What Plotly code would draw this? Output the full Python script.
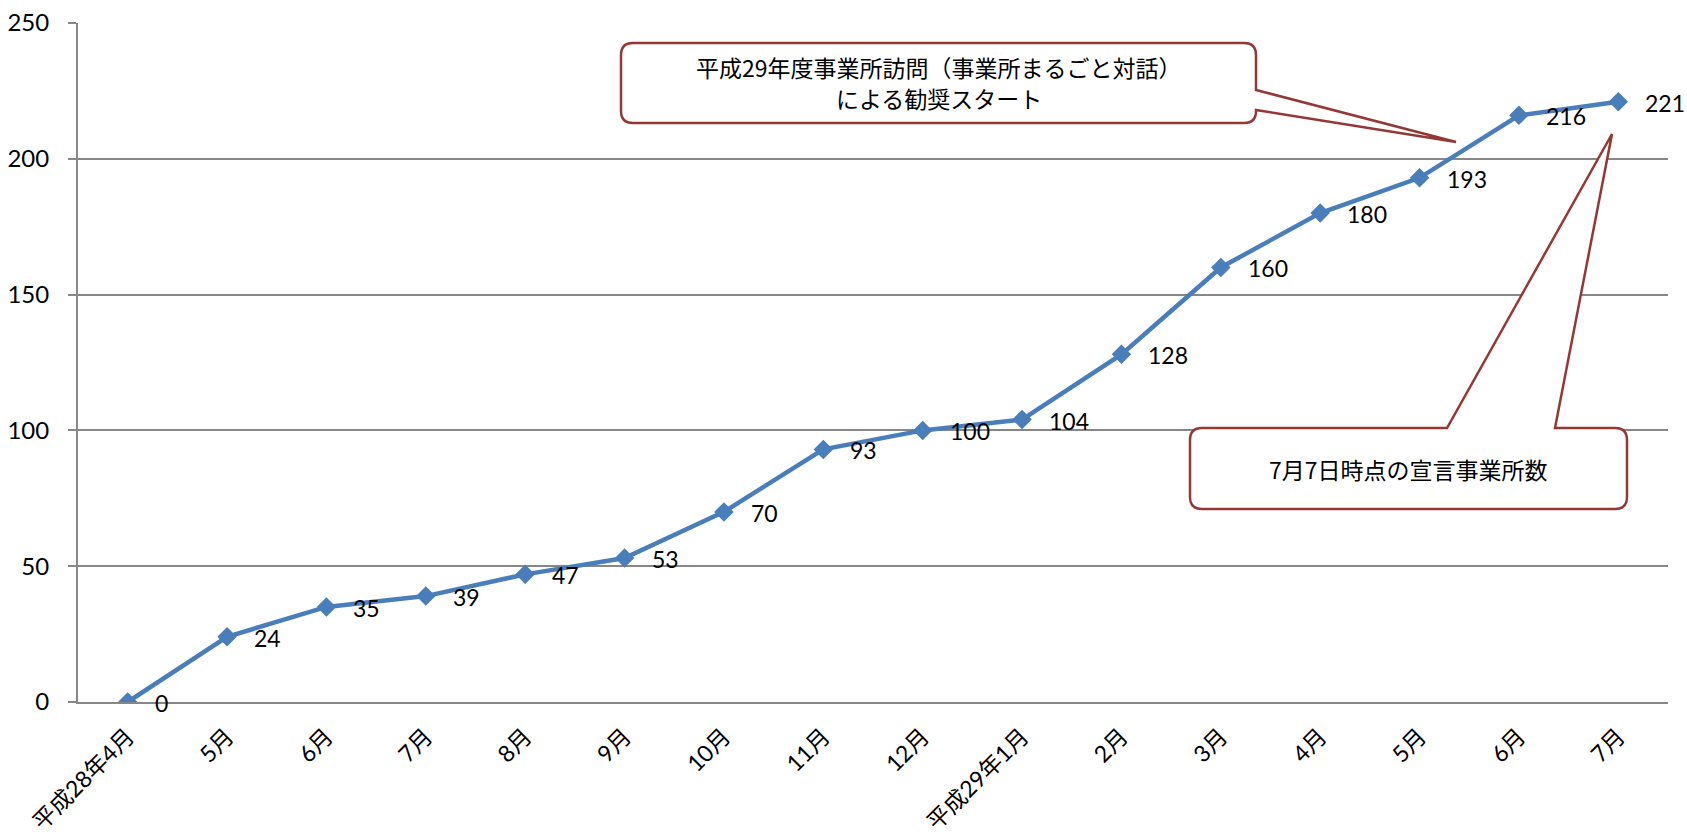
import plotly.graph_objects as go

# ---- data ----
months = ["平成28年4月", "5月", "6月", "7月", "8月", "9月", "10月", "11月", "12月",
          "平成29年1月", "2月", "3月", "4月", "5月", "6月", "7月"]
counts = [0, 24, 35, 39, 47, 53, 70, 93, 100, 104, 128, 160, 180, 193, 216, 221]
x_idx = list(range(len(months)))

callout1_lines = ["平成29年度事業所訪問（事業所まるごと対話）", "による勧奨スタート"]
callout2_text = "7月7日時点の宣言事業所数"

# ---- layout geometry (pixels) ----
W, H = 1687, 838
ML, MR, MT, MB = 78, 19, 23, 136
PX0, PX1 = ML, W - MR
PY0, PY1 = MT, H - MB

def px(x):
    return (x - PX0) / (PX1 - PX0)

def py(y):
    return (PY1 - y) / (PY1 - PY0)

def P(x, y):
    return f"{px(x):.5f},{py(y):.5f}"

def callout_right(L, T, R, B, r, y_a, y_b, tip):
    return (f"M {P(L + r, T)} L {P(R - r, T)} Q {P(R, T)} {P(R, T + r)} "
            f"L {P(R, y_a)} L {P(*tip)} L {P(R, y_b)} "
            f"L {P(R, B - r)} Q {P(R, B)} {P(R - r, B)} "
            f"L {P(L + r, B)} Q {P(L, B)} {P(L, B - r)} "
            f"L {P(L, T + r)} Q {P(L, T)} {P(L + r, T)} Z")

def callout_top(L, T, R, B, r, x_a, x_b, tip):
    return (f"M {P(L + r, T)} L {P(x_a, T)} L {P(*tip)} L {P(x_b, T)} "
            f"L {P(R - r, T)} Q {P(R, T)} {P(R, T + r)} "
            f"L {P(R, B - r)} Q {P(R, B)} {P(R - r, B)} "
            f"L {P(L + r, B)} Q {P(L, B)} {P(L, B - r)} "
            f"L {P(L, T + r)} Q {P(L, T)} {P(L + r, T)} Z")

GRID = "#878787"
LINE = "#4A7EBB"
RED = "#953735"
NUMFONT = "Lato, 'Noto Sans CJK JP', sans-serif"
JPFONT = "'Noto Sans CJK JP', sans-serif"

fig = go.Figure()
fig.add_trace(go.Scatter(
    x=x_idx, y=counts, mode="lines+markers",
    line=dict(color=LINE, width=4.5),
    marker=dict(symbol="diamond", size=15, color=LINE),
    hoverinfo="skip", showlegend=False,
))

annotations = []
for xi, v in zip(x_idx, counts):
    annotations.append(dict(
        x=xi, y=v, xref="x", yref="y", text=str(v), showarrow=False,
        xanchor="left", yanchor="middle", xshift=25, yshift=-1,
        font=dict(family=NUMFONT, size=23, color="#000000"),
    ))

for line_text, ly in zip(callout1_lines, [67, 98]):
    annotations.append(dict(
        x=px((621 + 1256) / 2), y=py(ly), xref="paper", yref="paper",
        text=line_text, showarrow=False, xanchor="center", yanchor="middle",
        font=dict(family=JPFONT, size=23, color="#000000"),
    ))
annotations.append(dict(
    x=px((1190 + 1627) / 2), y=py(469), xref="paper", yref="paper",
    text=callout2_text, showarrow=False, xanchor="center", yanchor="middle",
    font=dict(family=JPFONT, size=23, color="#000000"),
))

shapes = [
    dict(type="path", xref="paper", yref="paper", layer="above",
         path=callout_right(621, 43, 1256, 123, 12, 90, 110, (1456, 142)),
         line=dict(color=RED, width=2.5), fillcolor="white"),
    dict(type="path", xref="paper", yref="paper", layer="above",
         path=callout_top(1190, 428, 1627, 509, 12, 1447, 1555, (1612, 134)),
         line=dict(color=RED, width=2.5), fillcolor="white"),
]

fig.update_layout(
    width=W, height=H,
    margin=dict(l=ML, r=MR, t=MT, b=MB, pad=0, autoexpand=False),
    paper_bgcolor="white", plot_bgcolor="white",
    showlegend=False,
    annotations=annotations,
    shapes=shapes,
    xaxis=dict(
        range=[-0.5, len(months) - 0.5], automargin=False,
        tickmode="array", tickvals=x_idx, ticktext=months,
        tickangle=-45, ticks="", showgrid=False, zeroline=False,
        showline=True, linecolor=GRID, linewidth=2,
        tickfont=dict(family=NUMFONT, size=23, color="#000000"),
        ticklabelstandoff=10,
    ),
    yaxis=dict(
        range=[0, 250], tickmode="linear", tick0=0, dtick=50, automargin=False,
        showgrid=True, gridcolor=GRID, gridwidth=2, zeroline=False,
        showline=True, linecolor=GRID, linewidth=2,
        ticks="outside", ticklen=8, tickcolor=GRID, tickwidth=2,
        tickfont=dict(family=NUMFONT, size=24, color="#000000"),
        ticklabelstandoff=14,
    ),
)

fig.write_html("out.html")
